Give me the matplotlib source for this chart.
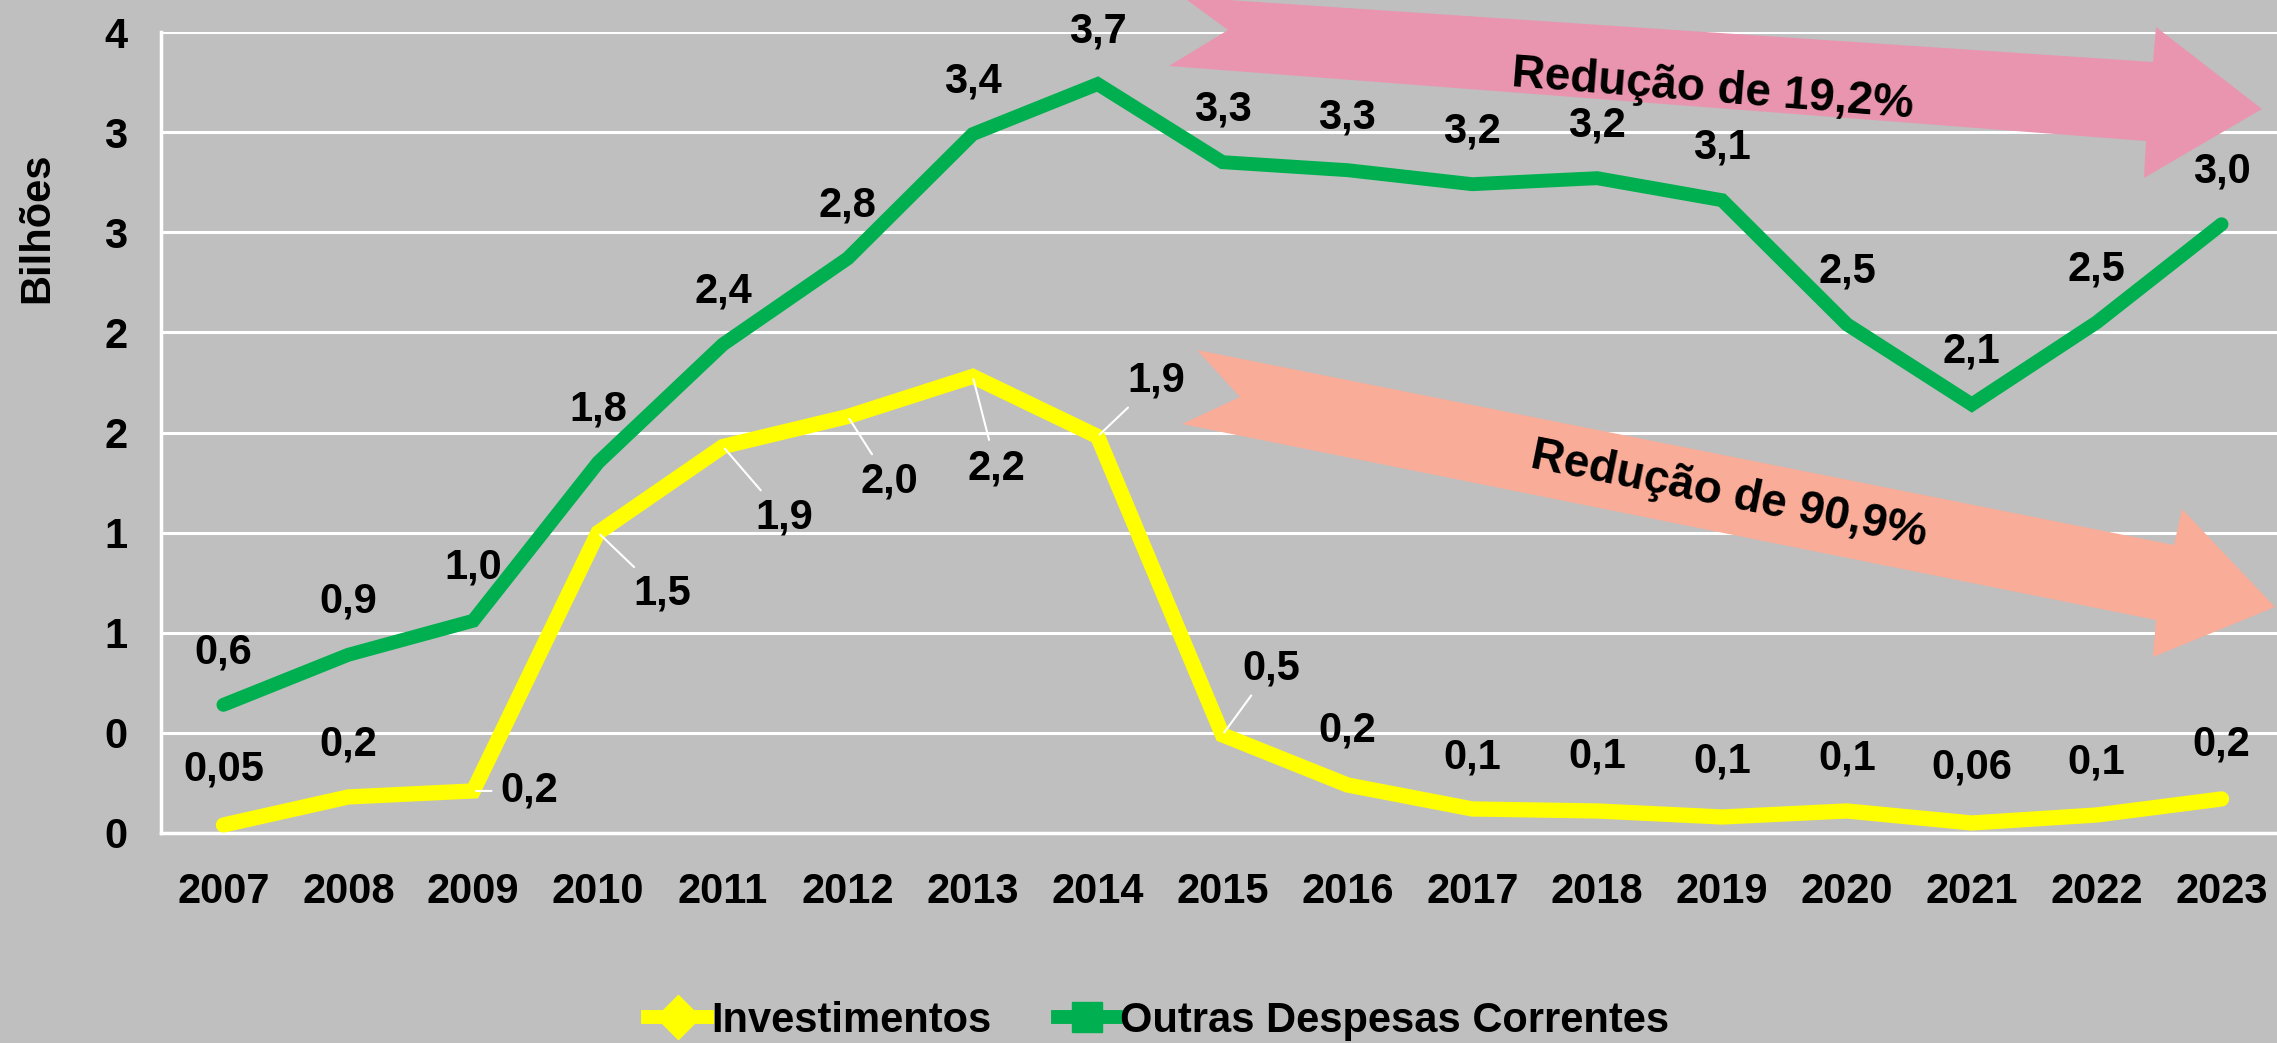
import matplotlib
matplotlib.use("Agg")
import matplotlib.pyplot as plt
from matplotlib.patches import Polygon
from matplotlib.lines import Line2D

plt.rcParams['font.family'] = ['Liberation Sans', 'DejaVu Sans']
plt.rcParams['font.weight'] = 'bold'

# data
anos = ['2007', '2008', '2009', '2010', '2011', '2012', '2013', '2014', '2015',
        '2016', '2017', '2018', '2019', '2020', '2021', '2022', '2023']
outras = [0.64, 0.89, 1.06, 1.85, 2.44, 2.87, 3.49, 3.74, 3.35, 3.31, 3.24, 3.27,
          3.16, 2.54, 2.14, 2.55, 3.04]
outras_lbl = ['0,6', '0,9', '1,0', '1,8', '2,4', '2,8', '3,4', '3,7', '3,3', '3,3',
              '3,2', '3,2', '3,1', '2,5', '2,1', '2,5', '3,0']
invest = [0.04, 0.18, 0.21, 1.50, 1.93, 2.08, 2.28, 1.98, 0.49, 0.24, 0.12, 0.11,
          0.08, 0.11, 0.05, 0.09, 0.17]
invest_lbl = ['0,05', '0,2', '0,2', '1,5', '1,9', '2,0', '2,2', '1,9', '0,5', '0,2',
              '0,1', '0,1', '0,1', '0,1', '0,06', '0,1', '0,2']
yticks = [0, 0.5, 1, 1.5, 2, 2.5, 3, 3.5, 4]
ytick_lbl = ['0', '0', '1', '1', '2', '2', '3', '3', '4']

bg = '#bfbfbf'
verde = '#00b050'
amarelo = '#ffff00'
W, H = 2277, 1043

fig = plt.figure(figsize=(22.77, 10.43), dpi=100, facecolor=bg)
ax = fig.add_axes([161 / W, 1 - 833 / H, (2284 - 161) / W, (833 - 32) / H])
ax.set_facecolor(bg)

x = list(range(len(anos)))
ax.plot(x, outras, color=verde, lw=10, solid_capstyle='round', solid_joinstyle='miter', zorder=3)
ax.plot(x, invest, color=amarelo, lw=11, solid_capstyle='round', solid_joinstyle='miter', zorder=3)

ax.set_xlim(-0.5, len(anos) - 0.5)
ax.set_ylim(0, 4)
ax.set_yticks(yticks)
ax.set_yticklabels(ytick_lbl)
ax.set_xticks(x)
ax.set_xticklabels(anos)
ax.tick_params(axis='y', length=0, pad=24, labelsize=30)
ax.tick_params(axis='x', length=0, pad=28, labelsize=30)
ax.grid(axis='y', color='white', lw=2.2, zorder=1)
ax.set_axisbelow(True)
for s in ['top', 'right']:
    ax.spines[s].set_visible(False)
for s in ['left', 'bottom']:
    ax.spines[s].set_color('white')
    ax.spines[s].set_linewidth(2.5)
ax.set_ylabel('Bilhões', fontsize=30, fontweight='bold')
ax.yaxis.set_label_coords(-0.049, 0.755)

# green labels above points
for i, (v, t) in enumerate(zip(outras, outras_lbl)):
    ax.annotate(t, (i, v), xytext=(0, 38), textcoords='offset points',
                ha='center', va='center', fontsize=30, zorder=5)

# yellow labels, some with leader lines
inv_off = [(0, 40), (0, 38), (40, 0), (46, -44), (44, -51), (30, -47), (17, -66),
           (42, 40), (35, 48), (0, 39), (0, 37), (0, 39), (0, 40), (0, 38), (0, 40),
           (0, 38), (0, 39)]
lider = [2, 3, 4, 5, 6, 7, 8]
for i, (v, t) in enumerate(zip(invest, invest_lbl)):
    dx, dy = inv_off[i]
    ap = None
    if i in lider:
        ap = dict(arrowstyle='-', color='white', lw=1.5, shrinkA=4, shrinkB=2)
    ax.annotate(t, (i, v), xytext=(dx, dy), textcoords='offset points',
                ha='center', va='center', fontsize=30, zorder=5, arrowprops=ap)

# block arrows (figure pixels, y from top)
def seta(pts, cor):
    p = Polygon([(px / W, 1 - py / H) for px, py in pts], closed=True,
                facecolor=cor, edgecolor='none', transform=fig.transFigure, zorder=2)
    fig.add_artist(p)

seta([(1183, -3), (2153, 62), (2156, 27), (2262, 109), (2144, 178), (2146, 141),
      (1169, 66), (1228, 30)], '#e995b0')
seta([(1197, 350), (2174, 545), (2182, 509), (2275, 607), (2153, 657), (2156, 620),
      (1182, 424), (1240, 397)], '#f9ac98')
fig.text(1713 / W, 1 - 90 / H, 'Redução de 19,2%', fontsize=33, fontweight='bold',
         rotation=-4.5, rotation_mode='anchor', ha='center', va='center', zorder=6)
fig.text(1729 / W, 1 - 495 / H, 'Redução de 90,9%', fontsize=33, fontweight='bold',
         rotation=-11.3, rotation_mode='anchor', ha='center', va='center', zorder=6)

# legend
hs = [Line2D([], [], color=amarelo, lw=10, marker='D', markersize=22),
      Line2D([], [], color=verde, lw=10, marker='s', markersize=22)]
fig.legend(hs, ['Investimentos', 'Outras Despesas Correntes'], loc='center',
           bbox_to_anchor=(1159 / W, 1 - 1021 / H), ncol=2, frameon=False,
           fontsize=30, handlelength=1.4, handletextpad=0.1, columnspacing=1.6)

fig.savefig('out.png', dpi=100, facecolor=bg)
